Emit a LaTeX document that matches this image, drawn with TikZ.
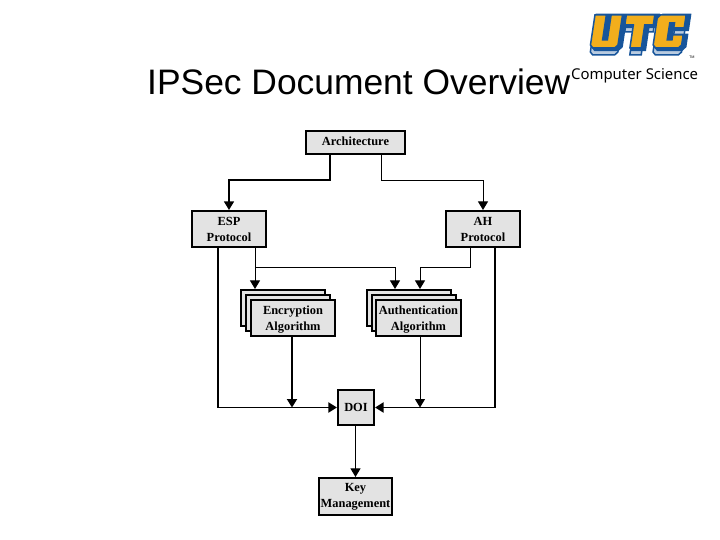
\documentclass[tikz,border=0pt]{standalone}
\usepackage{fontspec}
\setmainfont{Liberation Serif}
\newfontfamily\titlefont{Liberation Sans}
\newfontfamily\deptfont{Noto Sans}
\usepackage{xcolor}
\usetikzlibrary{arrows.meta}
\definecolor{boxgray}{HTML}{E3E3E3}
\definecolor{logogold}{HTML}{F2AE1C}
\definecolor{logoblue}{HTML}{17559B}
\definecolor{logoshade}{HTML}{B9CBE0}
\tikzset{>={Triangle[width=10pt,length=8.5pt]}}
\tikzset{box/.style={draw, fill=boxgray, line width=1.6pt, align=center, inner sep=0pt,
    font=\fontsize{12.4}{16}\selectfont\bfseries}}
\tikzset{heavy/.style={->, line width=1.8pt}}
\tikzset{medium/.style={->, line width=1.2pt}}
\tikzset{light/.style={->, line width=1pt}}
% block letters of the logo
\newcommand{\logoletters}{
  (0,-33) -- (12,-33) -- (12,-8) -- (17,-8) -- (17,-33) -- (29,-33) -- (29,-3) -- (26,0) -- (3,0) -- (0,-3) -- cycle
  (33,-33) -- (63,-33) -- (63,-23) -- (54,-23) -- (54,0) -- (42,0) -- (42,-23) -- (33,-23) -- cycle
  (69,-33) -- (96,-33) -- (96,-20) -- (85,-20) -- (85,-25) -- (80,-25) -- (80,-8) -- (85,-8) -- (85,-13) -- (96,-13) -- (96,-3) -- (93,0) -- (69,0) -- (66,-3) -- (66,-30) -- cycle}
\begin{document}
\begin{tikzpicture}[x=1pt,y=-1pt]
  \useasboundingbox (0,0) rectangle (720,540);
  % title
  \node[anchor=base west, inner sep=0pt, font=\titlefont\fontsize{35.4}{40}\selectfont] (title) at (147,95) {IPSec Document Overview};
  \node[anchor=base west, inner sep=0pt, font=\deptfont\fontsize{14.9}{18}\selectfont] (dept) at (571,80) {Computer Science};
  % logo
  \begin{scope}[shift={(590,48)}, xslant=0.15, xscale=0.95]
    \fill[logoshade, draw=logoblue, line width=1.5pt] [shift={(1,7)}] \logoletters;
    \fill[logoblue, draw=logoblue, line width=4.5pt] [shift={(3,1)}] \logoletters;
    \fill[logogold, draw=logoblue, line width=1.5pt] \logoletters;
  \end{scope}
  \node[inner sep=0pt, font=\deptfont\fontsize{3.5}{4}\selectfont] (tm) at (692,57) {TM};
  % boxes
  \node[box, minimum width=99.5pt, minimum height=23.5pt] (arch) at (355.5,142.5) {Architecture\rule[-3pt]{0pt}{0pt}};
  \node[box, minimum width=74.5pt, minimum height=36.5pt] (esp) at (229,229) {ESP\\Protocol};
  \node[box, minimum width=74.5pt, minimum height=36.5pt] (ah) at (483,229) {AH\\Protocol};
  \foreach \name/\cx in {encback/283,encmid/288}
    \node[box, minimum width=84.5pt, minimum height=36.5pt] (\name) at (\cx,{\cx-283+308}) {};
  \node[box, minimum width=84.5pt, minimum height=36.5pt] (enc) at (293,318) {\rule{0pt}{12pt}Encryption\\Algorithm};
  \foreach \name/\cx in {authback/409,authmid/414}
    \node[box, minimum width=84.5pt, minimum height=36.5pt] (\name) at (\cx,{\cx-409+308}) {};
  \node[box, minimum width=85.5pt, minimum height=36.5pt] (auth) at (418.5,318) {\rule{0pt}{12pt}Authentication\\Algorithm};
  \node[box, minimum width=36.5pt, minimum height=35.5pt] (doi) at (356,407.5) {DOI};
  \node[box, minimum width=73.5pt, minimum height=37.5pt] (key) at (355.5,496.5) {Key\\Management};
  % connectors
  \draw[medium] ([xshift=-25.5]arch.south) -- ++(0,25) -| (esp.north);
  \draw[light] ([xshift=25.5]arch.south) -- ++(0,25) -| (ah.north);
  \draw[light] ([xshift=26]esp.south) -- (encback.north -| 255,0);
  \draw[light] ([xshift=26]esp.south) ++(0,19) -| (authback.north -| 395,0);
  \draw[light] ([xshift=-13]ah.south) -- ++(0,19) -| (authback.north -| 420,0);
  \draw[heavy] ([xshift=-11]esp.south) |- (doi.west);
  \draw[heavy] ([xshift=12]ah.south) |- (doi.east);
  \draw[heavy] (enc.south -| 292,0) -- (doi.west -| 292,0);
  \draw[light] (auth.south -| 420,0) -- (doi.east -| 420,0);
  \draw[light] (doi.south -| key.north) -- (key.north);
\end{tikzpicture}
\end{document}
